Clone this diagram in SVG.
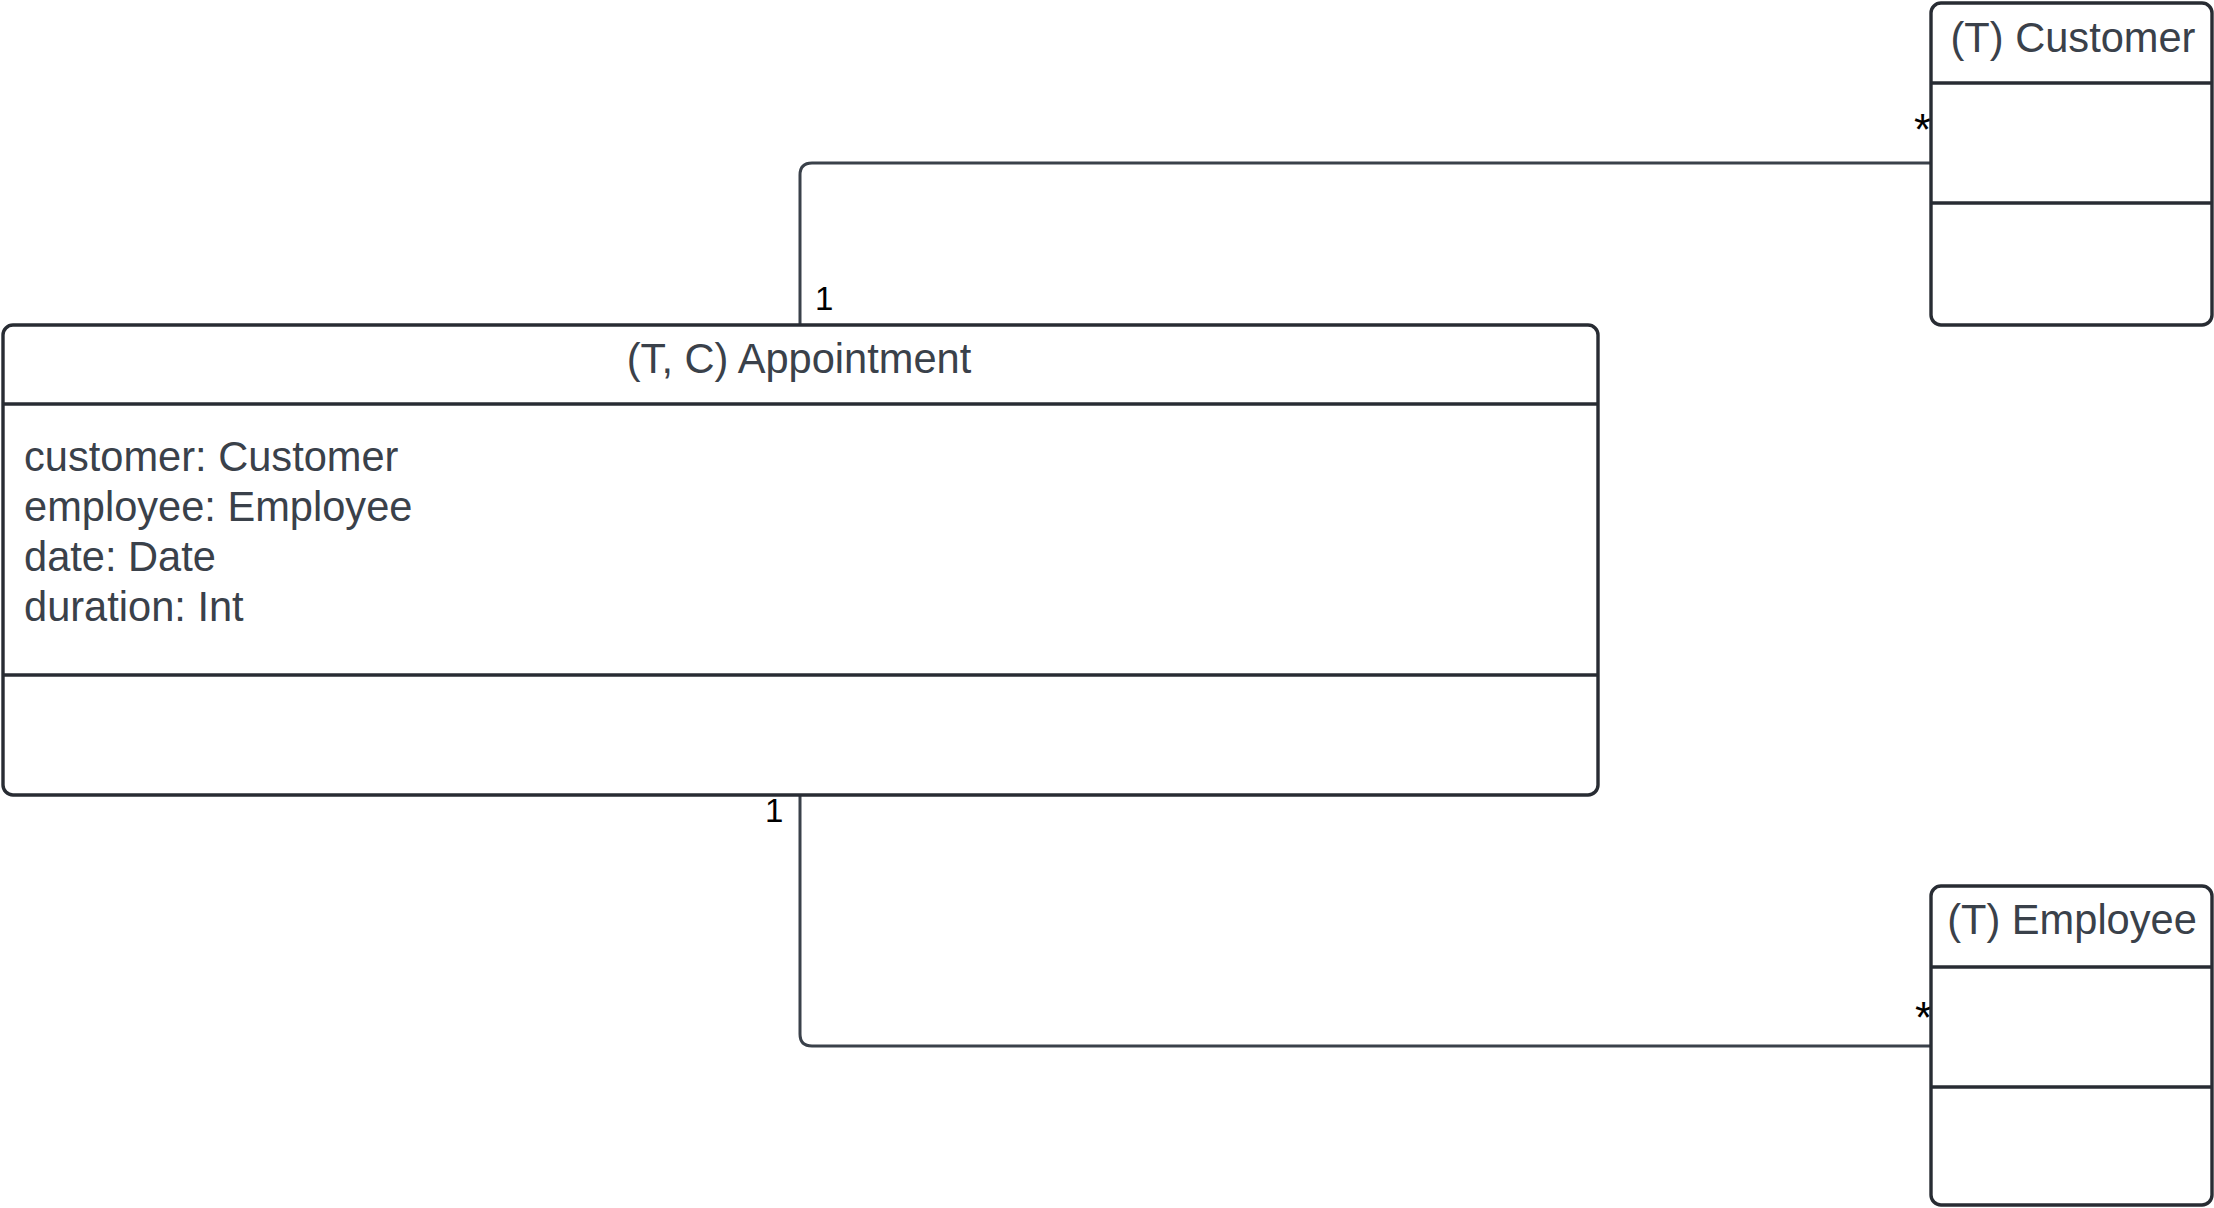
<svg xmlns="http://www.w3.org/2000/svg" width="2214" height="1208" viewBox="0 0 2214 1208">
<style>
.box{fill:#ffffff;stroke:#282c33;stroke-width:3.4}
.div{stroke:#282c33;stroke-width:3.4}
.t{font-family:"Liberation Sans",Arial,sans-serif;font-size:41.6px;fill:#3a414a}
.c{text-anchor:middle}
.conn{fill:none;stroke:#3a414a;stroke-width:3}
.m{font-family:"Liberation Sans",Arial,sans-serif;font-size:33px;fill:#000000}
.s{font-family:"Liberation Sans",Arial,sans-serif;font-size:44px;fill:#000000;text-anchor:end}
</style>
<rect width="2214" height="1208" fill="#ffffff"/>
<g id="connectors">
<path class="conn" d="M800,325 V175 Q800,163 812,163 H1931"/>
<path class="conn" d="M800,795 V1034 Q800,1046 812,1046 H1931"/>
<text class="m" x="815" y="310">1</text>
<text class="s" x="1931" y="145">*</text>
<text class="m" x="765" y="822">1</text>
<text class="s" x="1932" y="1033">*</text>
</g>
<g id="appointment">
<rect class="box" x="3" y="325" width="1595" height="470" rx="10"/>
<line class="div" x1="3" y1="404" x2="1598" y2="404"/>
<line class="div" x1="3" y1="675" x2="1598" y2="675"/>
<text class="t c" x="799" y="373">(T, C) Appointment</text>
<text class="t" x="24" y="471">customer: Customer</text>
<text class="t" x="24" y="521">employee: Employee</text>
<text class="t" x="24" y="571">date: Date</text>
<text class="t" x="24" y="621">duration: Int</text>
</g>
<g id="customer">
<rect class="box" x="1931" y="3" width="281" height="322" rx="10"/>
<line class="div" x1="1931" y1="83" x2="2212" y2="83"/>
<line class="div" x1="1931" y1="203" x2="2212" y2="203"/>
<text class="t c" x="2073" y="52">(T) Customer</text>
</g>
<g id="employee">
<rect class="box" x="1931" y="886" width="281" height="319" rx="10"/>
<line class="div" x1="1931" y1="967" x2="2212" y2="967"/>
<line class="div" x1="1931" y1="1087" x2="2212" y2="1087"/>
<text class="t c" x="2072" y="934">(T) Employee</text>
</g>
</svg>
